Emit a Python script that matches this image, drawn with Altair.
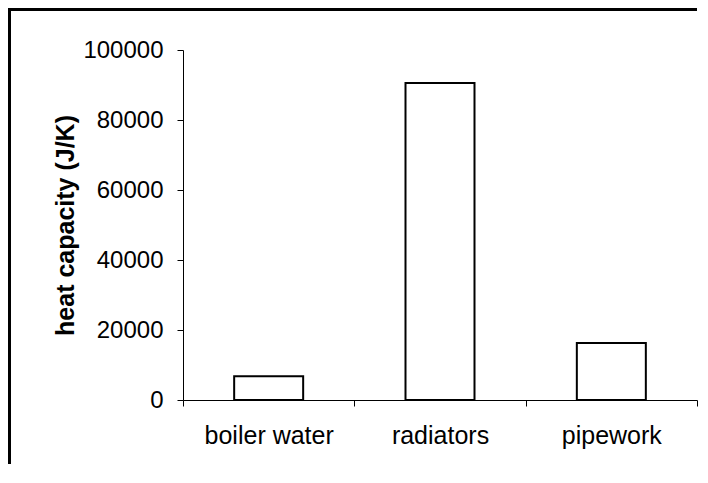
import altair as alt
import pandas as pd

categories = ["boiler water", "radiators", "pipework"]
values = [6800, 90600, 16300]

df = pd.DataFrame({"category": categories, "value": values})

W, H = 514, 350
PAD = {"left": 175, "top": 42, "right": 2, "bottom": 64}

bars = alt.Chart(df).mark_bar(
    size=69, fill="white", stroke="black", strokeWidth=2
).encode(
    x=alt.X(
        "category:N",
        sort=categories,
        scale=alt.Scale(paddingInner=0, paddingOuter=0),
        axis=alt.Axis(
            title=None,
            labelAngle=0,
            tickBand="extent",
            tickSize=6,
            labelPadding=17,
            labelFontSize=25,
            labelFont="Liberation Sans",
            labelColor="black",
            domainColor="black",
            tickColor="black",
        ),
    ),
    y=alt.Y(
        "value:Q",
        scale=alt.Scale(domain=[0, 100000], nice=False),
        axis=alt.Axis(
            title="heat capacity (J/K)",
            values=[0, 20000, 40000, 60000, 80000, 100000],
            format="d",
            grid=False,
            tickSize=6,
            labelPadding=14,
            labelFontSize=24,
            labelFont="Liberation Sans",
            labelColor="black",
            domainColor="black",
            tickColor="black",
            titleFont="Liberation Sans",
            titleFontSize=25,
            titleFontWeight="bold",
            titleColor="black",
            titleAngle=-90,
            titleAlign="center",
            titleBaseline="alphabetic",
            titleX=-110,
            titleY=H / 2,
        ),
    ),
)

frame_data = alt.Data(values=[{"k": 1}])
top_border = alt.Chart(frame_data).mark_rule(
    color="black", strokeWidth=3, strokeCap="butt"
).encode(
    x=alt.value(-PAD["left"]),
    x2=alt.value(W),
    y=alt.value(-PAD["top"] + 1.5),
)
left_border = alt.Chart(frame_data).mark_rule(
    color="black", strokeWidth=3, strokeCap="butt"
).encode(
    x=alt.value(-PAD["left"] + 1.5),
    y=alt.value(-PAD["top"]),
    y2=alt.value(H + PAD["bottom"]),
)

chart = alt.layer(bars, top_border, left_border).properties(
    width=W,
    height=H,
    padding=PAD,
    autosize=alt.AutoSizeParams(type="none"),
    background="white",
).configure_view(stroke=None)

chart.save("out.html", embed_options={"renderer": "svg", "actions": False})
